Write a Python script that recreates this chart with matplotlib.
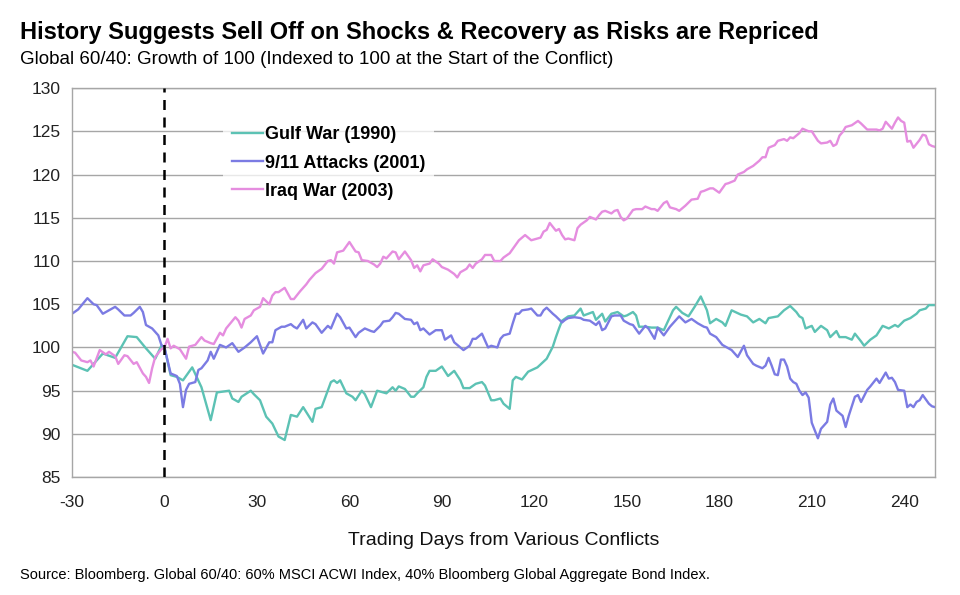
import matplotlib
matplotlib.use("Agg")
import matplotlib.pyplot as plt

# Trading days (x) and index values (y)
gulf_days = [-30, -25, -20, -16, -12, -9, -6, -3, -1, 0, 2, 4, 6, 9, 12, 15, 17, 19, 21, 22, 24, 25, 28, 29, 31, 33,
             35, 37, 39, 41, 43, 45, 48, 49, 51, 54, 55, 56, 57, 59, 61, 62, 64, 65, 67, 69, 71, 72, 74, 75, 76, 78,
             80, 81, 82, 84, 85, 86, 88, 90, 92, 94, 96, 97, 99, 101, 103, 104, 106, 107, 109, 110, 112, 113, 114,
             116, 118, 121, 124, 126, 127, 128, 129, 131, 133, 135, 136, 139, 140, 142, 143, 145, 147, 149, 150,
             152, 153, 154, 156, 158, 160, 162, 165, 166, 168, 170, 172, 173, 174, 176, 177, 179, 181, 182, 184,
             187, 189, 191, 193, 195, 196, 199, 201, 203, 205, 206, 207, 208, 210, 211, 213, 215, 216, 218, 219,
             221, 223, 224, 226, 227, 229, 231, 233, 235, 237, 238, 240, 242, 244, 245, 247, 248, 250]
gulf_vals = [98.0, 97.3, 99.3, 98.8, 101.3, 101.2, 99.9, 98.7, 100.2, 100.0, 96.8, 96.6, 96.2, 97.7, 95.4, 91.6, 94.8,
             94.9, 95.0, 94.1, 93.7, 94.3, 95.0, 94.6, 93.9, 92.0, 91.2, 89.7, 89.3, 92.2, 92.0, 93.1, 91.4, 92.9,
             93.1, 96.0, 96.2, 95.9, 96.2, 94.7, 94.3, 93.9, 95.0, 94.6, 93.1, 95.0, 94.8, 94.7, 95.4, 95.0, 95.5,
             95.2, 94.3, 94.3, 94.7, 95.4, 96.6, 97.3, 97.3, 97.8, 96.7, 97.3, 96.2, 95.3, 95.3, 95.8, 96.0, 95.6,
             93.9, 93.9, 94.1, 93.5, 92.9, 96.2, 96.6, 96.3, 97.2, 97.7, 98.7, 100.1, 101.2, 102.2, 103.1, 103.6,
             103.7, 104.5, 103.7, 104.1, 103.2, 103.9, 103.0, 103.9, 104.1, 103.6, 103.7, 104.1, 103.7, 102.4, 102.4,
             102.3, 102.3, 102.0, 104.3, 104.7, 104.0, 103.6, 104.7, 105.3, 105.9, 104.3, 102.8, 103.3, 102.9, 102.5,
             104.3, 103.8, 103.6, 102.9, 103.3, 102.8, 103.4, 103.6, 104.3, 104.8, 104.1, 103.6, 103.4, 102.2, 102.5,
             101.8, 102.5, 102.0, 101.2, 101.9, 101.2, 101.2, 100.9, 101.6, 100.7, 100.2, 100.9, 101.4, 102.5, 102.2,
             102.6, 102.4, 103.1, 103.4, 103.9, 104.3, 104.5, 104.9, 104.9]

attacks_days = [-30, -28, -25, -23, -22, -20, -16, -15, -13, -11, -10, -8, -7, -6, -4, -2, -1, 0, 1, 2, 4, 5, 6, 7,
                8, 10, 11, 12, 14, 15, 16, 18, 20, 22, 24, 26, 28, 30, 32, 34, 35, 36, 38, 39, 41, 42, 43, 45, 46, 48,
                49, 51, 53, 54, 56, 57, 59, 60, 62, 63, 65, 67, 68, 70, 71, 73, 74, 75, 76, 78, 80, 81, 82, 83, 84, 86,
                88, 90, 91, 93, 94, 96, 97, 99, 100, 101, 103, 104, 105, 106, 108, 109, 110, 112, 113, 114, 115, 116,
                118, 119, 121, 122, 123, 124, 126, 127, 129, 130, 131, 133, 135, 136, 138, 140, 141, 142, 143, 145,
                146, 148, 149, 151, 152, 154, 156, 157, 159, 160, 162, 164, 167, 169, 171, 173, 175, 176, 177, 179,
                181, 182, 184, 186, 188, 189, 191, 192, 194, 195, 196, 197, 198, 199, 200, 201, 202, 203, 204, 205,
                206, 207, 208, 209, 210, 212, 213, 215, 216, 217, 218, 220, 221, 222, 224, 225, 226, 228, 229, 231,
                232, 234, 235, 236, 237, 238, 240, 241, 242, 243, 244, 245, 246, 248, 249, 250]
attacks_vals = [103.9, 104.4, 105.7, 105.0, 104.9, 103.9, 104.7, 104.4, 103.7, 103.7, 104.0, 104.7, 104.1, 102.6,
                102.2, 101.4, 100.3, 100.0, 98.5, 97.0, 96.7, 95.8, 93.1, 95.1, 95.8, 96.0, 97.4, 97.6, 98.5, 99.5,
                98.7, 100.3, 100.0, 100.5, 99.5, 100.0, 100.6, 101.3, 99.3, 100.6, 100.6, 102.0, 102.4, 102.4, 102.7,
                102.4, 102.2, 103.2, 102.2, 102.9, 102.7, 101.7, 102.5, 102.2, 103.9, 103.5, 102.2, 102.3, 101.2,
                101.7, 102.2, 101.9, 101.8, 102.5, 103.0, 103.1, 103.5, 104.0, 103.9, 103.3, 103.2, 102.7, 102.9,
                102.0, 102.2, 101.5, 102.0, 102.0, 100.9, 101.4, 100.6, 100.0, 99.7, 100.2, 101.0, 101.0, 101.6,
                100.8, 100.0, 100.2, 100.0, 101.0, 101.4, 101.6, 102.8, 103.9, 103.9, 104.3, 104.4, 104.5, 103.7,
                103.7, 104.3, 104.6, 103.9, 103.6, 102.9, 103.2, 103.4, 103.5, 103.4, 103.2, 103.1, 102.6, 103.0,
                102.0, 102.2, 103.6, 103.7, 103.7, 103.1, 102.7, 102.6, 101.6, 102.5, 102.2, 101.0, 102.3, 101.4,
                102.4, 103.6, 102.9, 103.3, 102.8, 102.4, 102.3, 101.6, 101.2, 100.3, 100.1, 99.7, 98.9, 100.2, 99.1,
                98.1, 97.9, 97.6, 97.9, 98.8, 97.9, 96.9, 96.8, 98.6, 98.6, 97.8, 96.4, 96.0, 95.8, 95.0, 94.5, 94.8,
                94.2, 91.3, 89.5, 90.6, 91.4, 93.4, 94.1, 92.7, 92.1, 90.8, 92.1, 94.3, 94.5, 93.7, 95.1, 95.5, 96.4,
                95.9, 97.1, 96.4, 96.5, 96.0, 95.1, 95.0, 93.1, 93.4, 93.1, 93.7, 93.9, 94.5, 93.5, 93.2, 93.1]

iraq_days = [-30, -29, -27, -25, -24, -23, -21, -19, -18, -16, -15, -13, -12, -10, -9, -7, -6, -5, -4, -3, -1, 0, 1,
             2, 3, 5, 7, 8, 10, 12, 13, 15, 16, 18, 19, 20, 23, 24, 25, 26, 28, 29, 31, 32, 34, 35, 36, 37, 39, 41,
             42, 44, 46, 47, 49, 51, 53, 54, 55, 56, 58, 59, 60, 62, 63, 64, 66, 68, 69, 70, 71, 72, 74, 75, 76, 78,
             80, 81, 82, 83, 84, 86, 87, 89, 90, 92, 94, 95, 96, 98, 99, 100, 101, 103, 104, 106, 107, 109, 110, 112,
             114, 115, 117, 118, 119, 121, 122, 123, 124, 125, 127, 128, 129, 130, 131, 133, 134, 135, 137, 138,
             140, 141, 142, 143, 145, 146, 147, 148, 149, 150, 152, 153, 155, 156, 158, 159, 160, 162, 163, 164,
             166, 167, 169, 171, 173, 174, 175, 177, 178, 180, 182, 183, 185, 186, 188, 189, 191, 193, 194, 195,
             196, 198, 199, 201, 202, 203, 204, 205, 206, 207, 209, 210, 212, 213, 215, 216, 217, 218, 219, 220,
             221, 223, 225, 226, 228, 229, 231, 232, 233, 234, 235, 236, 237, 238, 239, 240, 241, 242, 243, 245,
             246, 247, 248, 249, 250]
iraq_vals = [99.5, 99.4, 98.5, 98.3, 98.5, 97.8, 99.7, 99.2, 99.5, 99.0, 98.1, 99.1, 99.0, 98.1, 98.3, 97.0, 96.6,
             95.9, 97.6, 98.9, 99.8, 100.0, 101.0, 99.9, 100.2, 99.8, 98.7, 100.1, 100.3, 101.2, 100.8, 100.5, 100.4,
             101.7, 101.4, 102.2, 103.5, 103.1, 102.3, 103.3, 103.7, 104.3, 104.7, 105.7, 105.0, 106.0, 106.4, 106.4,
             106.9, 105.6, 105.6, 106.5, 107.3, 107.8, 108.6, 109.1, 110.0, 110.1, 109.7, 111.0, 111.2, 111.7, 112.2,
             111.1, 111.0, 110.1, 110.0, 109.6, 109.3, 109.7, 110.5, 110.3, 111.1, 111.0, 110.2, 111.1, 110.1, 109.2,
             109.5, 108.8, 109.5, 109.7, 110.2, 109.7, 109.3, 109.0, 108.5, 108.1, 108.7, 109.1, 109.6, 109.2, 109.7,
             110.2, 110.7, 110.7, 110.0, 110.0, 110.4, 110.9, 111.9, 112.4, 113.0, 112.7, 112.4, 112.6, 112.7, 113.4,
             113.6, 114.4, 113.5, 113.7, 113.0, 112.5, 112.6, 112.4, 113.8, 114.2, 114.7, 115.1, 114.8, 115.3, 115.7,
             115.8, 115.5, 115.8, 115.9, 115.1, 114.7, 114.9, 115.9, 116.0, 116.0, 116.3, 116.0, 116.0, 115.8, 116.7,
             116.9, 116.2, 116.0, 115.8, 116.4, 117.1, 117.2, 118.0, 118.1, 118.4, 118.4, 117.9, 118.9, 119.0, 119.3,
             120.0, 120.3, 120.6, 121.0, 121.6, 122.0, 122.0, 123.1, 123.4, 123.9, 124.1, 123.9, 124.3, 124.2, 124.5,
             124.8, 125.3, 125.0, 125.0, 123.9, 123.6, 123.7, 123.9, 123.3, 123.5, 124.5, 124.9, 125.5, 125.7, 126.2,
             125.9, 125.2, 125.2, 125.2, 125.1, 125.3, 126.1, 125.7, 125.3, 126.0, 126.6, 126.2, 126.0, 123.8, 123.9,
             123.1, 124.0, 124.6, 124.5, 123.5, 123.3, 123.2]

labels = ["Gulf War (1990)", "9/11 Attacks (2001)", "Iraq War (2003)"]
colors = ["#5cc2b4", "#7b7be3", "#e58ddf"]

x_ticks = [-30, 0, 30, 60, 90, 120, 150, 180, 210, 240]
y_ticks = [85, 90, 95, 100, 105, 110, 115, 120, 125, 130]

narrow = ["Liberation Sans Narrow", "Liberation Sans", "DejaVu Sans"]
plt.rcParams["font.family"] = narrow
plt.rcParams["axes.unicode_minus"] = False

fig = plt.figure(figsize=(9.6, 5.95), dpi=100)
ax = fig.add_axes([0.075, 0.198, 0.899, 0.654])

ax.plot(gulf_days, gulf_vals, color=colors[0], lw=1.7, label=labels[0])
ax.plot(attacks_days, attacks_vals, color=colors[1], lw=1.7, label=labels[1])
ax.plot(iraq_days, iraq_vals, color=colors[2], lw=1.7, label=labels[2])

# start of conflict
ax.axvline(0, color="black", lw=1.8, ls=(0, (4, 3)), zorder=3)

ax.set_xlim(-30, 250)
ax.set_ylim(85, 130)
ax.set_xticks(x_ticks)
ax.set_yticks(y_ticks)
ax.tick_params(length=0, labelsize=12.5, colors="#222222")
ax.tick_params(axis="x", pad=13)
ax.tick_params(axis="y", pad=8)
ax.grid(axis="y", color="#a6a6a6", lw=1)
ax.set_axisbelow(True)
for s in ax.spines.values():
    s.set_color("#a6a6a6")
    s.set_linewidth(1)

ax.set_xlabel("Trading Days from Various Conflicts", fontsize=14, labelpad=16, color="#111111")

leg = ax.legend(loc="upper left", bbox_to_anchor=(0.165, 0.948), frameon=True,
                handlelength=1.7, handletextpad=0.1, labelspacing=0.62, borderpad=0.5,
                prop={"family": narrow, "weight": "bold", "size": 13})
leg.get_frame().set_edgecolor("none")
leg.get_frame().set_alpha(0.75)

fig.text(0.021, 0.946, "History Suggests Sell Off on Shocks & Recovery as Risks are Repriced",
         fontsize=17, fontweight="bold", va="center")
fig.text(0.021, 0.900, "Global 60/40: Growth of 100 (Indexed to 100 at the Start of the Conflict)",
         fontsize=13.5, va="center")
fig.text(0.021, 0.034, "Source: Bloomberg. Global 60/40: 60% MSCI ACWI Index, 40% Bloomberg Global Aggregate Bond Index.",
         fontsize=10.5, va="center")

fig.savefig("out.png", dpi=100)
